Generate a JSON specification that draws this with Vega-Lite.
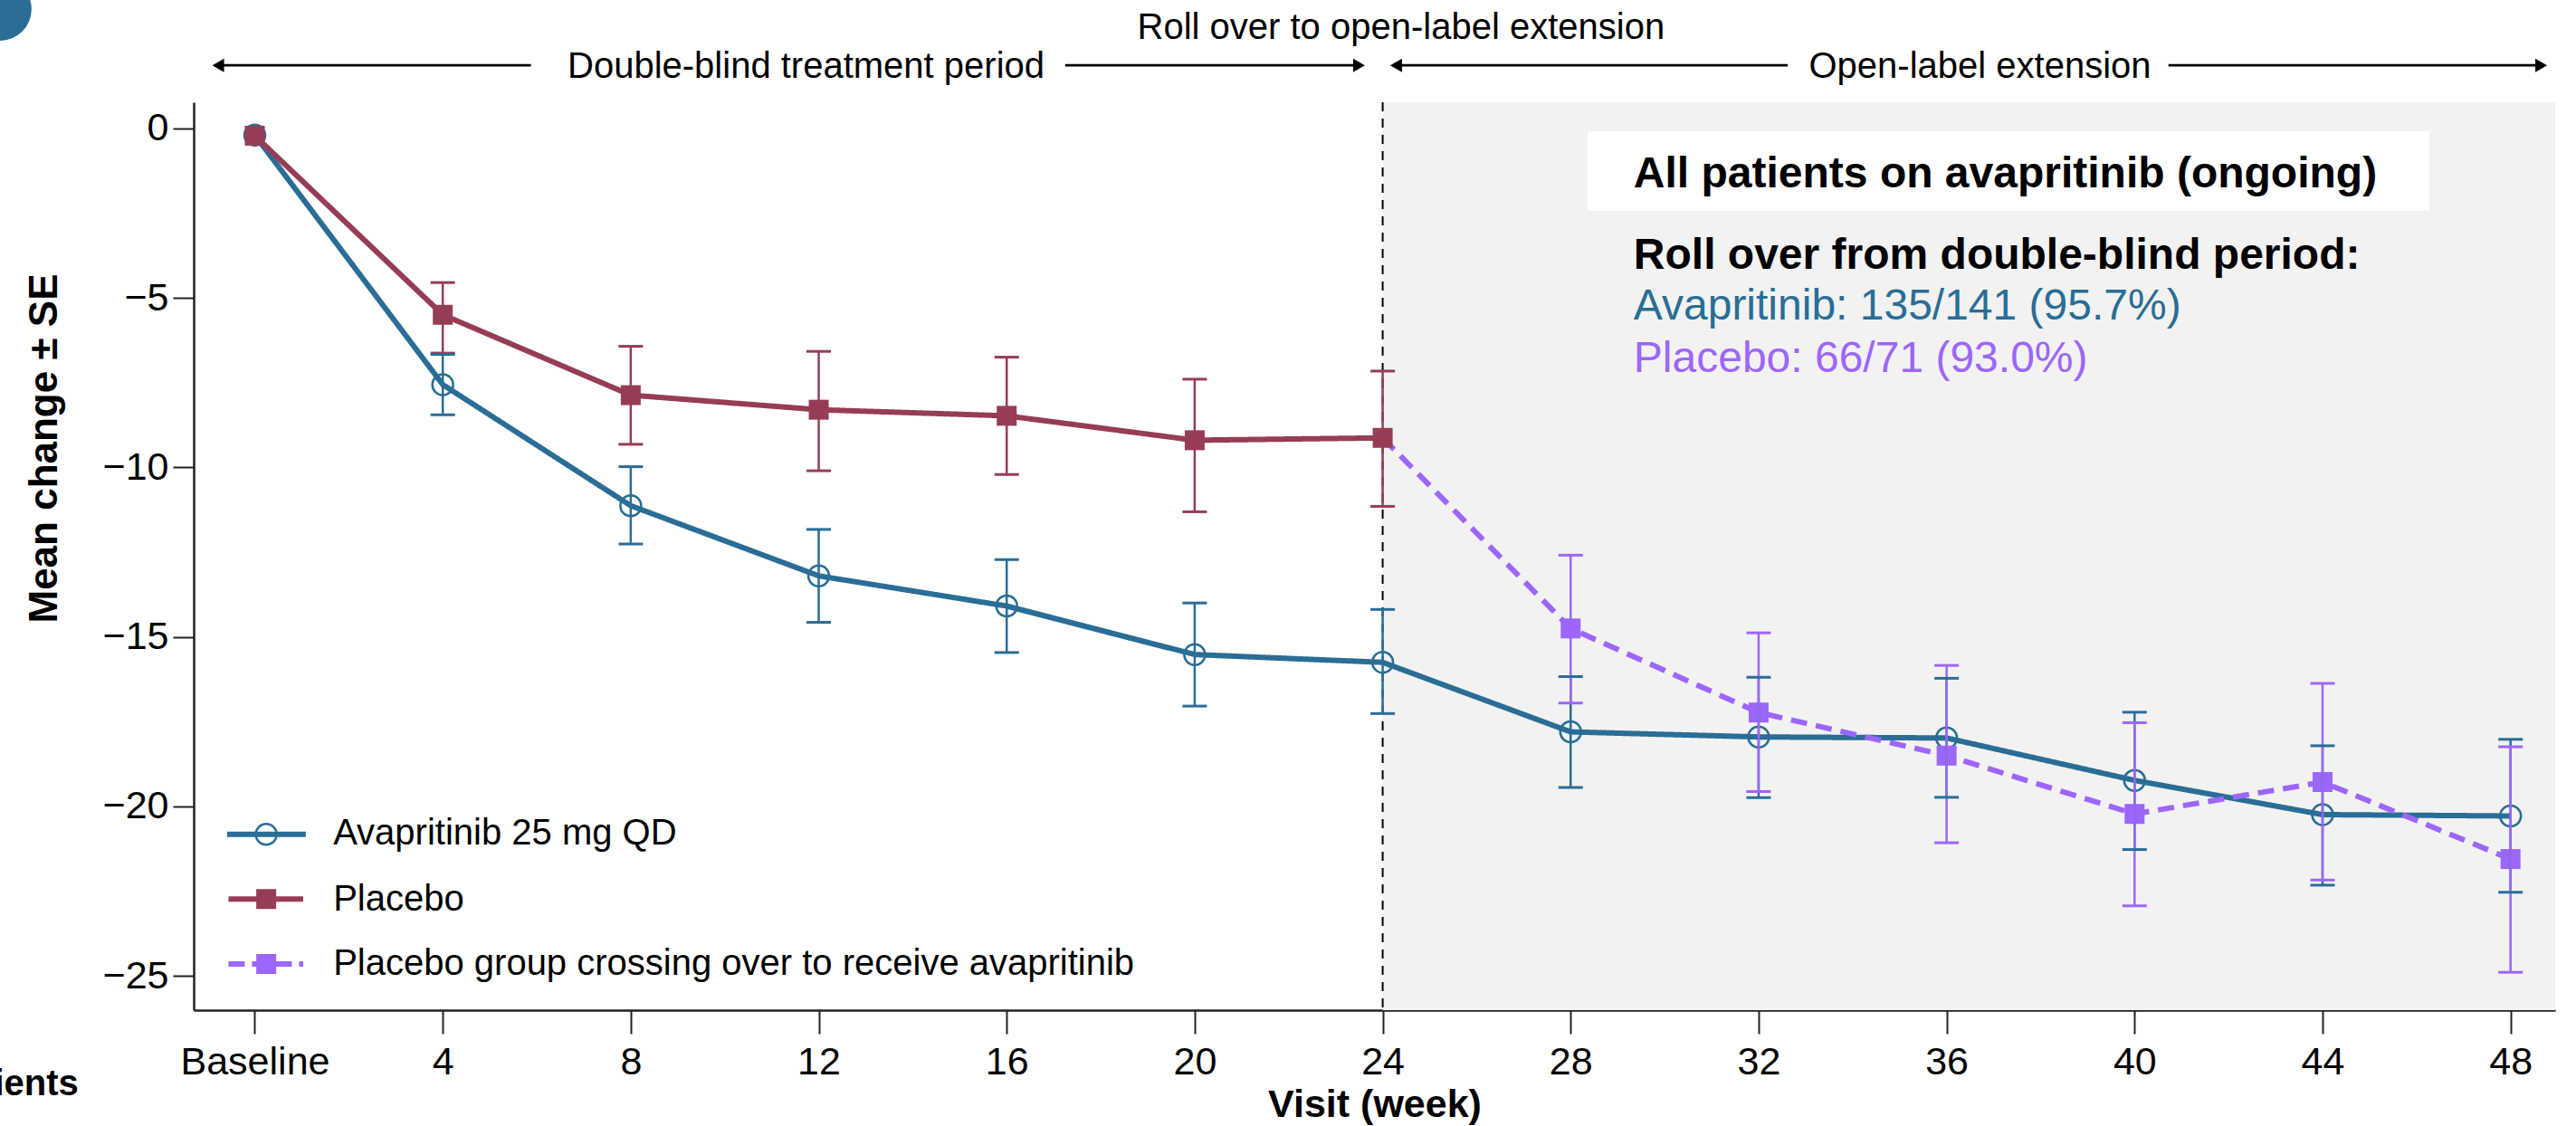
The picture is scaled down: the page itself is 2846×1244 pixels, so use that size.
{
  "$schema": "https://vega.github.io/schema/vega-lite/v6.json",
  "width": 2609,
  "height": 1003,
  "autosize": {"type": "none"},
  "padding": {"left": 214, "top": 113, "right": 23, "bottom": 128},
  "background": "white",
  "config": {"font": "Liberation Sans", "view": {"stroke": null}},
  "datasets": {
    "one": [{}],
    "series": [
      {"group": "Avapritinib 25 mg QD", "week": 0, "mean": -0.2},
      {"group": "Avapritinib 25 mg QD", "week": 4, "mean": -7.56, "lo": -8.45, "hi": -6.67},
      {"group": "Avapritinib 25 mg QD", "week": 8, "mean": -11.13, "lo": -12.26, "hi": -9.98},
      {"group": "Avapritinib 25 mg QD", "week": 12, "mean": -13.2, "lo": -14.57, "hi": -11.83},
      {"group": "Avapritinib 25 mg QD", "week": 16, "mean": -14.09, "lo": -15.46, "hi": -12.72},
      {"group": "Avapritinib 25 mg QD", "week": 20, "mean": -15.52, "lo": -17.04, "hi": -14.0},
      {"group": "Avapritinib 25 mg QD", "week": 24, "mean": -15.75, "lo": -17.26, "hi": -14.19},
      {"group": "Avapritinib 25 mg QD", "week": 28, "mean": -17.8, "lo": -19.44, "hi": -16.17},
      {"group": "Avapritinib 25 mg QD", "week": 32, "mean": -17.95, "lo": -19.74, "hi": -16.19},
      {"group": "Avapritinib 25 mg QD", "week": 36, "mean": -17.98, "lo": -19.73, "hi": -16.22},
      {"group": "Avapritinib 25 mg QD", "week": 40, "mean": -19.23, "lo": -21.27, "hi": -17.22},
      {"group": "Avapritinib 25 mg QD", "week": 44, "mean": -20.24, "lo": -22.32, "hi": -18.21},
      {"group": "Avapritinib 25 mg QD", "week": 48, "mean": -20.28, "lo": -22.53, "hi": -18.02},
      {"group": "Placebo", "week": 0, "mean": -0.22},
      {"group": "Placebo", "week": 4, "mean": -5.5, "lo": -6.63, "hi": -4.55},
      {"group": "Placebo", "week": 8, "mean": -7.87, "lo": -9.32, "hi": -6.43},
      {"group": "Placebo", "week": 12, "mean": -8.3, "lo": -10.1, "hi": -6.58},
      {"group": "Placebo", "week": 16, "mean": -8.48, "lo": -10.21, "hi": -6.75},
      {"group": "Placebo", "week": 20, "mean": -9.2, "lo": -11.31, "hi": -7.4},
      {"group": "Placebo", "week": 24, "mean": -9.13, "lo": -11.15, "hi": -7.16},
      {"group": "Placebo group crossing over to receive avapritinib", "week": 24, "mean": -9.13},
      {"group": "Placebo group crossing over to receive avapritinib", "week": 28, "mean": -14.75, "lo": -16.95, "hi": -12.59},
      {"group": "Placebo group crossing over to receive avapritinib", "week": 32, "mean": -17.23, "lo": -19.56, "hi": -14.88},
      {"group": "Placebo group crossing over to receive avapritinib", "week": 36, "mean": -18.5, "lo": -21.07, "hi": -15.84},
      {"group": "Placebo group crossing over to receive avapritinib", "week": 40, "mean": -20.22, "lo": -22.93, "hi": -17.53},
      {"group": "Placebo group crossing over to receive avapritinib", "week": 44, "mean": -19.28, "lo": -22.17, "hi": -16.37},
      {"group": "Placebo group crossing over to receive avapritinib", "week": 48, "mean": -21.55, "lo": -24.89, "hi": -18.24}
    ]
  },
  "layer": [
    {
      "data": {"name": "one"},
      "mark": {"type": "rect", "color": "#f2f2f2"},
      "encoding": {
        "x": {"datum": 24, "type": "quantitative"},
        "x2": {"datum": 48.95},
        "y": {"datum": 0.766, "type": "quantitative"},
        "y2": {"datum": -26.006}
      }
    },
    {
      "data": {"name": "one"},
      "mark": {"type": "rect", "color": "white"},
      "encoding": {
        "x": {"datum": 28.36, "type": "quantitative"},
        "x2": {"datum": 46.27},
        "y": {"datum": -0.088, "type": "quantitative"},
        "y2": {"datum": -2.429}
      }
    },
    {
      "data": {"name": "one"},
      "mark": {"type": "rule", "color": "black", "strokeWidth": 2, "strokeDash": [10, 8]},
      "encoding": {
        "x": {"datum": 24, "type": "quantitative"},
        "y": {"datum": 0.766, "type": "quantitative"},
        "y2": {"datum": -26.006}
      }
    },
    {
      "data": {"name": "series"},
      "mark": {"type": "line", "strokeWidth": 6},
      "encoding": {
        "x": {
          "field": "week", "type": "quantitative",
          "scale": {"domain": [-1.3, 48.95], "nice": false, "zero": false},
          "axis": {
            "values": [0, 4, 8, 12, 16, 20, 24, 28, 32, 36, 40, 44, 48],
            "labelExpr": "datum.value === 0 ? 'Baseline' : datum.label",
            "title": "Visit (week)",
            "titleFontSize": 43, "titleFontWeight": "bold", "titleColor": "black",
            "titleY": 117, "titleBaseline": "alphabetic",
            "labelFontSize": 43, "labelColor": "black", "labelBaseline": "alphabetic",
            "labelPadding": 44, "labelFlush": false, "labelOverlap": false,
            "tickSize": 26, "tickWidth": 2, "tickColor": "#222",
            "domainColor": "#222", "domainWidth": 2.5, "grid": false
          }
        },
        "y": {
          "field": "mean", "type": "quantitative",
          "scale": {"domain": [-26.006, 0.766], "nice": false, "zero": false},
          "axis": {
            "values": [0, -5, -10, -15, -20, -25],
            "title": "Mean change ± SE",
            "titleFontSize": 44, "titleFontWeight": "bold", "titleColor": "black",
            "titleX": -152, "titleY": 382, "titleBaseline": "alphabetic", "titleAlign": "center",
            "labelFontSize": 43, "labelColor": "black", "labelPadding": 5,
            "tickSize": 23, "tickWidth": 2, "tickColor": "#222",
            "domainColor": "#222", "domainWidth": 2.5, "grid": false
          }
        },
        "color": {
          "field": "group", "type": "nominal",
          "scale": {
            "domain": ["Avapritinib 25 mg QD", "Placebo", "Placebo group crossing over to receive avapritinib"],
            "range": ["#2a6d96", "#963d55", "#9b66fa"]
          },
          "legend": null
        },
        "strokeDash": {
          "field": "group", "type": "nominal",
          "scale": {
            "domain": ["Avapritinib 25 mg QD", "Placebo", "Placebo group crossing over to receive avapritinib"],
            "range": [[1, 0], [1, 0], [18, 10]]
          },
          "legend": null
        }
      }
    },
    {
      "data": {"name": "series"},
      "transform": [{"filter": "datum.group === 'Avapritinib 25 mg QD'"}],
      "mark": {"type": "point", "shape": "circle", "filled": false, "strokeWidth": 2.5, "size": 529, "color": "#2a6d96", "opacity": 1},
      "encoding": {
        "x": {"field": "week", "type": "quantitative"},
        "y": {"field": "mean", "type": "quantitative"}
      }
    },
    {
      "data": {"name": "series"},
      "transform": [{"filter": "datum.group !== 'Avapritinib 25 mg QD' && !(datum.group === 'Placebo group crossing over to receive avapritinib' && datum.week === 24)"}],
      "mark": {"type": "point", "shape": "square", "filled": true, "size": 484, "opacity": 1},
      "encoding": {
        "x": {"field": "week", "type": "quantitative"},
        "y": {"field": "mean", "type": "quantitative"},
        "color": {"field": "group", "type": "nominal", "legend": null}
      }
    },
    {
      "data": {"name": "series"},
      "transform": [{"filter": "isValid(datum.lo)"}],
      "mark": {"type": "rule", "strokeWidth": 2.5},
      "encoding": {
        "x": {"field": "week", "type": "quantitative"},
        "y": {"field": "lo", "type": "quantitative"},
        "y2": {"field": "hi"},
        "color": {"field": "group", "type": "nominal", "legend": null}
      }
    },
    {
      "data": {"name": "series"},
      "transform": [{"filter": "isValid(datum.lo)"}],
      "mark": {"type": "tick", "orient": "horizontal", "size": 27, "thickness": 3, "opacity": 1},
      "encoding": {
        "x": {"field": "week", "type": "quantitative"},
        "y": {"field": "lo", "type": "quantitative"},
        "color": {"field": "group", "type": "nominal", "legend": null}
      }
    },
    {
      "data": {"name": "series"},
      "transform": [{"filter": "isValid(datum.hi)"}],
      "mark": {"type": "tick", "orient": "horizontal", "size": 27, "thickness": 3, "opacity": 1},
      "encoding": {
        "x": {"field": "week", "type": "quantitative"},
        "y": {"field": "hi", "type": "quantitative"},
        "color": {"field": "group", "type": "nominal", "legend": null}
      }
    },
    {
      "data": {"name": "one"},
      "mark": {"type": "rule", "color": "#2a6d96", "strokeWidth": 6},
      "encoding": {"x": {"datum": -0.59, "type": "quantitative"}, "x2": {"datum": 1.085}, "y": {"datum": -20.82, "type": "quantitative"}}
    },
    {
      "data": {"name": "one"},
      "mark": {"type": "point", "shape": "circle", "filled": false, "strokeWidth": 2.5, "size": 529, "color": "#2a6d96", "opacity": 1},
      "encoding": {"x": {"datum": 0.243, "type": "quantitative"}, "y": {"datum": -20.82, "type": "quantitative"}}
    },
    {
      "data": {"name": "one"},
      "mark": {"type": "rule", "color": "#963d55", "strokeWidth": 6},
      "encoding": {"x": {"datum": -0.56, "type": "quantitative"}, "x2": {"datum": 1.03}, "y": {"datum": -22.73, "type": "quantitative"}}
    },
    {
      "data": {"name": "one"},
      "mark": {"type": "point", "shape": "square", "filled": true, "size": 484, "color": "#963d55", "opacity": 1},
      "encoding": {"x": {"datum": 0.243, "type": "quantitative"}, "y": {"datum": -22.73, "type": "quantitative"}}
    },
    {
      "data": {"name": "one"},
      "mark": {"type": "rule", "color": "#9b66fa", "strokeWidth": 6, "strokeDash": [18, 8]},
      "encoding": {"x": {"datum": -0.56, "type": "quantitative"}, "x2": {"datum": 1.03}, "y": {"datum": -24.645, "type": "quantitative"}}
    },
    {
      "data": {"name": "one"},
      "mark": {"type": "point", "shape": "square", "filled": true, "size": 484, "color": "#9b66fa", "opacity": 1},
      "encoding": {"x": {"datum": 0.243, "type": "quantitative"}, "y": {"datum": -24.645, "type": "quantitative"}}
    },
    {
      "data": {"name": "one"},
      "mark": {"type": "text", "fontSize": 40, "align": "left", "baseline": "alphabetic", "color": "black", "text": "Avapritinib 25 mg QD"},
      "encoding": {"x": {"datum": 1.669, "type": "quantitative"}, "y": {"datum": -21.12, "type": "quantitative"}}
    },
    {
      "data": {"name": "one"},
      "mark": {"type": "text", "fontSize": 40, "align": "left", "baseline": "alphabetic", "color": "black", "text": "Placebo"},
      "encoding": {"x": {"datum": 1.669, "type": "quantitative"}, "y": {"datum": -23.07, "type": "quantitative"}}
    },
    {
      "data": {"name": "one"},
      "mark": {"type": "text", "fontSize": 40, "align": "left", "baseline": "alphabetic", "color": "black", "text": "Placebo group crossing over to receive avapritinib"},
      "encoding": {"x": {"datum": 1.669, "type": "quantitative"}, "y": {"datum": -24.97, "type": "quantitative"}}
    },
    {
      "data": {"name": "one"},
      "mark": {"type": "rule", "color": "black", "strokeWidth": 2.7},
      "encoding": {"x": {"datum": -0.85, "type": "quantitative"}, "x2": {"datum": 5.876}, "y": {"datum": 1.855, "type": "quantitative"}}
    },
    {
      "data": {"name": "one"},
      "mark": {"type": "rule", "color": "black", "strokeWidth": 2.7},
      "encoding": {"x": {"datum": 17.244, "type": "quantitative"}, "x2": {"datum": 23.55}, "y": {"datum": 1.855, "type": "quantitative"}}
    },
    {
      "data": {"name": "one"},
      "mark": {"type": "rule", "color": "black", "strokeWidth": 2.7},
      "encoding": {"x": {"datum": 24.22, "type": "quantitative"}, "x2": {"datum": 32.62}, "y": {"datum": 1.855, "type": "quantitative"}}
    },
    {
      "data": {"name": "one"},
      "mark": {"type": "rule", "color": "black", "strokeWidth": 2.7},
      "encoding": {"x": {"datum": 40.72, "type": "quantitative"}, "x2": {"datum": 48.72}, "y": {"datum": 1.855, "type": "quantitative"}}
    },
    {
      "data": {"name": "one"},
      "mark": {"type": "point", "shape": "triangle-left", "filled": true, "size": 225, "color": "black", "opacity": 1},
      "encoding": {"x": {"datum": -0.779, "type": "quantitative"}, "y": {"datum": 1.855, "type": "quantitative"}}
    },
    {
      "data": {"name": "one"},
      "mark": {"type": "point", "shape": "triangle-right", "filled": true, "size": 225, "color": "black", "opacity": 1},
      "encoding": {"x": {"datum": 23.496, "type": "quantitative"}, "y": {"datum": 1.855, "type": "quantitative"}}
    },
    {
      "data": {"name": "one"},
      "mark": {"type": "point", "shape": "triangle-left", "filled": true, "size": 225, "color": "black", "opacity": 1},
      "encoding": {"x": {"datum": 24.286, "type": "quantitative"}, "y": {"datum": 1.855, "type": "quantitative"}}
    },
    {
      "data": {"name": "one"},
      "mark": {"type": "point", "shape": "triangle-right", "filled": true, "size": 225, "color": "black", "opacity": 1},
      "encoding": {"x": {"datum": 48.652, "type": "quantitative"}, "y": {"datum": 1.855, "type": "quantitative"}}
    },
    {
      "data": {"name": "one"},
      "mark": {"type": "text", "fontSize": 40, "align": "center", "baseline": "alphabetic", "color": "black", "text": "Double-blind treatment period"},
      "encoding": {"x": {"datum": 11.73, "type": "quantitative"}, "y": {"datum": 1.487, "type": "quantitative"}}
    },
    {
      "data": {"name": "one"},
      "mark": {"type": "text", "fontSize": 40, "align": "center", "baseline": "alphabetic", "color": "black", "text": "Roll over to open-label extension"},
      "encoding": {"x": {"datum": 24.39, "type": "quantitative"}, "y": {"datum": 2.627, "type": "quantitative"}}
    },
    {
      "data": {"name": "one"},
      "mark": {"type": "text", "fontSize": 40, "align": "center", "baseline": "alphabetic", "color": "black", "text": "Open-label extension"},
      "encoding": {"x": {"datum": 36.71, "type": "quantitative"}, "y": {"datum": 1.5, "type": "quantitative"}}
    },
    {
      "data": {"name": "one"},
      "mark": {"type": "text", "fontSize": 48, "fontWeight": "bold", "align": "left", "baseline": "alphabetic", "color": "black", "text": "All patients on avapritinib (ongoing)"},
      "encoding": {"x": {"datum": 29.34, "type": "quantitative"}, "y": {"datum": -1.735, "type": "quantitative"}}
    },
    {
      "data": {"name": "one"},
      "mark": {"type": "text", "fontSize": 48, "fontWeight": "bold", "align": "left", "baseline": "alphabetic", "color": "black", "text": "Roll over from double-blind period:"},
      "encoding": {"x": {"datum": 29.34, "type": "quantitative"}, "y": {"datum": -4.137, "type": "quantitative"}}
    },
    {
      "data": {"name": "one"},
      "mark": {"type": "text", "fontSize": 48, "align": "left", "baseline": "alphabetic", "color": "#2a6d96", "text": "Avapritinib: 135/141 (95.7%)"},
      "encoding": {"x": {"datum": 29.34, "type": "quantitative"}, "y": {"datum": -5.648, "type": "quantitative"}}
    },
    {
      "data": {"name": "one"},
      "mark": {"type": "text", "fontSize": 48, "align": "left", "baseline": "alphabetic", "color": "#9b66fa", "text": "Placebo: 66/71 (93.0%)"},
      "encoding": {"x": {"datum": 29.34, "type": "quantitative"}, "y": {"datum": -7.18, "type": "quantitative"}}
    },
    {
      "data": {"name": "one"},
      "mark": {"type": "point", "shape": "circle", "filled": true, "size": 4900, "color": "#2a6d96", "opacity": 1},
      "encoding": {"x": {"datum": -5.425, "type": "quantitative"}, "y": {"datum": 3.515, "type": "quantitative"}}
    },
    {
      "data": {"name": "one"},
      "mark": {"type": "text", "fontSize": 40, "fontWeight": "bold", "align": "right", "baseline": "alphabetic", "color": "black", "text": "No. of patients"},
      "encoding": {"x": {"datum": -3.75, "type": "quantitative"}, "y": {"datum": -28.52, "type": "quantitative"}}
    }
  ]
}
